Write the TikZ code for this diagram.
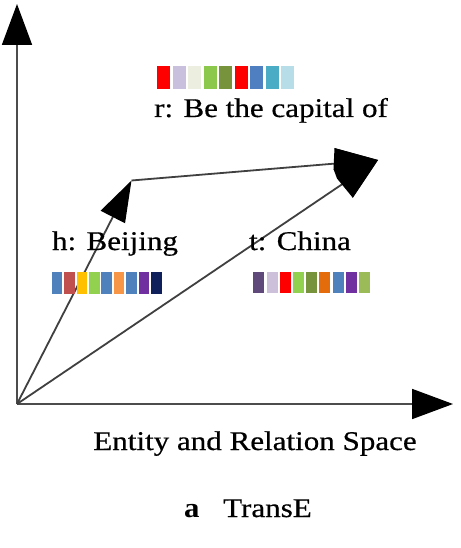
\documentclass[tikz,border=0pt]{standalone}
\usepackage{fontspec}
\setmainfont{Liberation Serif}
\newfontfamily\blurfont{Liberation Serif}[FakeBold=0.5]
\usepackage{graphicx}
\usetikzlibrary{arrows.meta}
\definecolor{rA}{HTML}{FF0000}\definecolor{rB}{HTML}{C8C0DC}\definecolor{rC}{HTML}{ECEEE0}
\definecolor{rD}{HTML}{8CC84B}\definecolor{rE}{HTML}{77933C}\definecolor{rF}{HTML}{FF0000}
\definecolor{rG}{HTML}{4F7FC0}\definecolor{rH}{HTML}{4BACC6}\definecolor{rI}{HTML}{B7DDE8}
\definecolor{hA}{HTML}{4F81BD}\definecolor{hB}{HTML}{C0504D}\definecolor{hC}{HTML}{FFC000}
\definecolor{hD}{HTML}{92D050}\definecolor{hE}{HTML}{4F81BD}\definecolor{hF}{HTML}{F79646}
\definecolor{hG}{HTML}{4F81BD}\definecolor{hH}{HTML}{7030A0}\definecolor{hI}{HTML}{0F1F5C}
\definecolor{tA}{HTML}{5F497A}\definecolor{tB}{HTML}{CCC0DA}\definecolor{tC}{HTML}{FF0000}
\definecolor{tD}{HTML}{92D050}\definecolor{tE}{HTML}{77933C}\definecolor{tF}{HTML}{E46C0A}
\definecolor{tG}{HTML}{4F81BD}\definecolor{tH}{HTML}{7030A0}\definecolor{tI}{HTML}{9BBB59}
\begin{document}
\begin{tikzpicture}[x=1pt,y=-1pt,
  axis/.style={line width=1.8pt, draw=black!70, -{Triangle[length=41pt,width=30pt,color=black]}},
  vect/.style={line width=1.8pt, draw=black!75, -{Triangle[length=42pt,width=34pt,color=black]}},
  vecr/.style={line width=1.8pt, draw=black!75, -{Triangle[length=42pt,width=30pt,color=black]}},
  vech/.style={line width=1.8pt, draw=black!75, -{Triangle[length=41pt,width=27pt,color=black]}},
  lbl/.style={font=\blurfont\fontsize{27}{30}\selectfont, anchor=base, inner sep=0pt},
  caplbl/.style={anchor=base west, inner sep=0pt}
]
\useasboundingbox (0,0) rectangle (460,548);
\fill[white] (0,0) rectangle (460,548);
% coordinates
\coordinate (O) at (17,404);
\coordinate (Ytip) at (17,4);
\coordinate (Xtip) at (453,404);
\coordinate (H) at (131.5,180.5);
\coordinate (T) at (378,160);
% axes
\draw[axis] (O) -- (Ytip);
\draw[axis] (O) -- (Xtip);
% vectors
\draw[vech] (O) -- (H);
\draw[vect] (O) -- (T);
\draw[vecr] (H) -- (T);
% merged head where r and t meet
\fill[black] (334.5,148) -- (T) -- (352.7,197.6) -- (337,178.5) -- (333.5,169) -- cycle;
% colour bars
\foreach \c [count=\i from 0] in {rA,rB,rC,rD,rE,rF,rG,rH,rI}
  \fill[\c] ({157+15.5*\i},66) rectangle ++(13,23);
\foreach \c [count=\i from 0] in {hA,hB,hC,hD,hE,hF,hG,hH,hI}
  \fill[\c] ({51.7+12.4*\i},272) rectangle ++(10.7,22);
\foreach \c [count=\i from 0] in {tA,tB,tC,tD,tE,tF,tG,tH,tI}
  \fill[\c] ({253.3+13.2*\i},272) rectangle ++(11,21);
% labels
\node[lbl] (rlab) at (271,117) {\scalebox{1.15}[1]{r: Be the capital of}};
\node[lbl] (hlab) at (115,250) {\scalebox{1.15}[1]{h: Beijing}};
\node[lbl] (tlab) at (300,250) {\scalebox{1.15}[1]{t: China}};
\node[lbl] (space) at (255,450) {\scalebox{1.15}[1]{Entity and Relation Space}};
\node[caplbl, font=\fontsize{28}{30}\selectfont\bfseries] (alab) at (184,517) {\scalebox{1.1}[1]{a}};
\node[caplbl, font=\blurfont\fontsize{27}{30}\selectfont] (transe) at (223,517) {\scalebox{1.15}[1]{TransE}};
\end{tikzpicture}
\end{document}
